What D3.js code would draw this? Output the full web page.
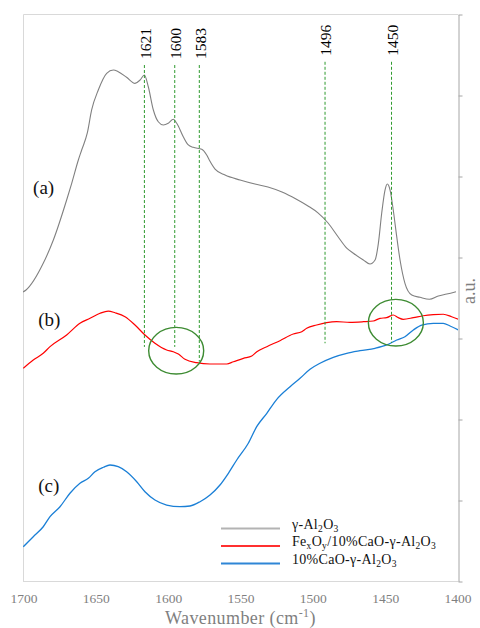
<!DOCTYPE html>
<html>
<head>
<meta charset="utf-8">
<script src="https://cdn.jsdelivr.net/npm/d3@7"></script>
<style>
  html, body { margin: 0; padding: 0; background: #fff; }
  svg { display: block; }
</style>
</head>
<body>
<svg id="chart" width="480" height="628"></svg>
<script>
// ---- FTIR spectra (wavenumber in cm-1, absorbance in arbitrary units) ----
const aluminaWavenumber = [1705, 1702.9, 1691.0, 1684.0, 1674.8, 1671.3, 1666.7, 1664.4, 1660.5, 1657.5, 1652.9,
  1647.1, 1642.5, 1639.1, 1633.3, 1627.5, 1624.0, 1621.0, 1618.3, 1614.8, 1611.4, 1607.9, 1604.5, 1601.0,
  1598.6, 1594.1, 1590.6, 1587.2, 1581.3, 1577.9, 1576.1, 1572.1, 1565.2, 1554.8, 1544.5, 1535.5, 1525.8,
  1516.1, 1507.8, 1500.9, 1493.9, 1487.0, 1481.0, 1476.4, 1469.5, 1464.9, 1461.4, 1459.1, 1456.8, 1454.5,
  1452.9, 1451.0, 1448.8, 1446.4, 1444.1, 1440.7, 1436.0, 1430.3, 1423.8, 1417.6, 1411.8, 1405.4];
const aluminaIntensity = [3.568, 3.593, 3.922, 4.210, 4.704, 4.910, 5.198, 5.321, 5.531, 5.815, 6.062,
  6.268, 6.309, 6.288, 6.219, 6.144, 6.185, 6.247, 6.102, 5.815, 5.670, 5.630, 5.651, 5.700,
  5.651, 5.485, 5.383, 5.354, 5.330, 5.259, 5.198, 5.086, 5.012, 4.951, 4.901, 4.864, 4.802,
  4.716, 4.630, 4.545, 4.420, 4.250, 4.110, 4.046, 3.963, 3.914, 3.963, 4.169, 4.540, 4.827,
  4.901, 4.827, 4.580, 4.251, 3.963, 3.675, 3.531, 3.502, 3.478, 3.519, 3.543, 3.572];

const feCaWavenumber = [1704.8, 1697.9, 1691.0, 1686.3, 1674.8, 1665.6, 1658.6, 1651.7, 1646.0, 1641.3, 1634.4,
  1627.5, 1620.6, 1613.7, 1605.6, 1601.0, 1597.5, 1592.9, 1584.8, 1575.6, 1564.0, 1559.4, 1552.5, 1546.7,
  1543.2, 1536.3, 1527.2, 1518.0, 1512.1, 1508.7, 1501.8, 1494.9, 1488.0, 1478.8, 1469.5, 1462.6, 1458.0,
  1453.4, 1448.8, 1445.3, 1441.9, 1434.9, 1428.0, 1421.1, 1414.2, 1408.4, 1403.8];
const feCaIntensity = [2.626, 2.728, 2.811, 2.893, 3.037, 3.181, 3.243, 3.305, 3.333, 3.312, 3.263,
  3.160, 3.037, 2.935, 2.852, 2.831, 2.802, 2.737, 2.695, 2.679, 2.679, 2.707, 2.749, 2.778,
  2.831, 2.893, 2.967, 3.049, 3.078, 3.120, 3.160, 3.189, 3.201, 3.194, 3.201, 3.210, 3.243,
  3.251, 3.284, 3.251, 3.231, 3.251, 3.275, 3.288, 3.293, 3.263, 3.231];

const caWavenumber = [1704.8, 1697.9, 1691.0, 1686.3, 1679.4, 1672.5, 1665.6, 1659.8, 1655.2, 1649.4, 1644.8,
  1639.1, 1633.3, 1626.3, 1620.6, 1613.7, 1605.6, 1596.4, 1589.4, 1582.5, 1575.6, 1568.7, 1562.9, 1557.1,
  1549.1, 1543.3, 1536.3, 1529.4, 1520.2, 1513.3, 1506.4, 1499.5, 1490.3, 1481.0, 1471.8, 1461.4, 1453.3,
  1446.4, 1440.7, 1434.9, 1429.1, 1421.1, 1414.2, 1409.5, 1403.8];
const caIntensity = [0.423, 0.547, 0.670, 0.794, 0.917, 1.083, 1.206, 1.268, 1.349, 1.404, 1.432,
  1.411, 1.349, 1.226, 1.102, 1.000, 0.938, 0.917, 0.926, 0.979, 1.062, 1.185, 1.330, 1.494,
  1.700, 1.905, 2.070, 2.243, 2.399, 2.502, 2.614, 2.688, 2.762, 2.811, 2.843, 2.873, 2.914,
  2.975, 3.016, 3.099, 3.160, 3.181, 3.181, 3.148, 3.099];

// Band positions marked with guide lines, and the intensity span each guide covers
const bandPositions = [1621, 1600, 1583, 1496, 1450];
const bandLineTop = [6.37, 6.37, 6.37, 6.41, 6.41];
const bandLineBottom = [2.89, 2.89, 2.71, 2.935, 2.94];

// Highlighted regions on the Fe-loaded spectrum (centre wavenumber, centre intensity)
const highlightWavenumber = [1599, 1447];
const highlightIntensity = [2.843, 3.189];

// Axis ticks
const xTickValues = [1700, 1650, 1600, 1550, 1500, 1450, 1400];
const yTickValues = [0, 1, 2, 3, 4, 5, 6, 7];

// Curve tags placed beside each spectrum (wavenumber, intensity)
const tagLabels = ["(a)", "(b)", "(c)"];
const tagWavenumber = [1698, 1694.5, 1694.5];
const tagIntensity = [4.86, 3.225, 1.185];

// Legend entries (rich text pieces: sub = subscript)
const legendLabels = [
  [{t: "γ-Al"}, {t: "2", sub: true}, {t: "O"}, {t: "3", sub: true}],
  [{t: "Fe"}, {t: "x", sub: true}, {t: "O"}, {t: "y", sub: true}, {t: "/10%CaO-γ-Al"}, {t: "2", sub: true}, {t: "O"}, {t: "3", sub: true}],
  [{t: "10%CaO-γ-Al"}, {t: "2", sub: true}, {t: "O"}, {t: "3", sub: true}]
];

// ---- drawing ----
const frame = {left: 23, right: 458, top: 14, bottom: 581};
const serif = "'Liberation Serif', 'DejaVu Serif', serif";

const svg = d3.select("#chart");

// Spectra span 1705–1404 cm-1 across the plot frame; tick labels use the nominal 1700–1400 range
const x = d3.scaleLinear().domain([1705, 1404]).range([frame.left, frame.right]);
const xTicksScale = d3.scaleLinear().domain([1700, 1400]).range([frame.left + 0.5, frame.right - 0.5]);
const y = d3.scaleLinear().domain([0, 7]).range([frame.bottom, frame.top]);

svg.append("defs").append("clipPath").attr("id", "plotClip")
  .append("rect")
  .attr("x", frame.left).attr("y", frame.top)
  .attr("width", frame.right - frame.left).attr("height", frame.bottom - frame.top);

// Plot frame (left, top, bottom)
const frameG = svg.append("g").attr("stroke", "#d9d9d9").attr("stroke-width", 1).attr("fill", "none");
frameG.append("path")
  .attr("d", `M${frame.left + 0.5},${frame.bottom + 0.5}V${frame.top + 0.5}H${frame.right}`);
frameG.append("path")
  .attr("d", `M${frame.left},${frame.bottom + 0.5}H${frame.right}`);

// Right value axis with outward ticks, no labels
const yAxisG = svg.append("g")
  .attr("transform", `translate(${frame.right + 0.5},0.5)`)
  .call(d3.axisRight(y).tickValues(yTickValues).tickSize(4).tickSizeOuter(0).tickFormat(""));
yAxisG.select(".domain").attr("stroke", "#a6a6a6");
yAxisG.selectAll(".tick line").attr("stroke", "#a6a6a6");

// Bottom tick labels
const xAxisG = svg.append("g")
  .attr("transform", `translate(0,${frame.bottom})`)
  .call(d3.axisBottom(xTicksScale).tickValues(xTickValues).tickSize(0).tickPadding(12).tickFormat(d3.format("d")));
xAxisG.select(".domain").remove();
xAxisG.selectAll("text")
  .attr("font-family", serif).attr("font-size", 13.5).attr("fill", "#7f7f7f");

// Axis titles
const xTitle = svg.append("text")
  .attr("x", (frame.left + frame.right) / 2).attr("y", 624)
  .attr("text-anchor", "middle")
  .attr("font-family", serif).attr("font-size", 18).attr("letter-spacing", 0.4).attr("fill", "#7f7f7f");
xTitle.append("tspan").text("Wavenumber (cm");
xTitle.append("tspan").text("-1").attr("font-size", 12).attr("dy", -7);
xTitle.append("tspan").text(")").attr("dy", 7);

svg.append("text")
  .attr("transform", "translate(475,291) rotate(-90)")
  .attr("text-anchor", "middle")
  .attr("font-family", serif).attr("font-size", 18).attr("fill", "#7f7f7f")
  .text("a.u.");

// Spectra
const series = [
  {w: aluminaWavenumber, v: aluminaIntensity, color: "#808080", width: 1.1},
  {w: feCaWavenumber, v: feCaIntensity, color: "#ff0000", width: 1.2},
  {w: caWavenumber, v: caIntensity, color: "#1a7fd6", width: 1.3}
];
const line = d3.line().curve(d3.curveMonotoneX).x(d => x(d[0])).y(d => y(d[1]));
const plot = svg.append("g").attr("clip-path", "url(#plotClip)");
series.forEach(s => {
  plot.append("path")
    .datum(d3.zip(s.w, s.v))
    .attr("fill", "none")
    .attr("stroke", s.color)
    .attr("stroke-width", s.width)
    .attr("stroke-linejoin", "round")
    .attr("d", line);
});

// Band guide lines
const guideG = svg.append("g");
bandPositions.forEach((b, i) => {
  guideG.append("line")
    .attr("x1", x(b)).attr("x2", x(b))
    .attr("y1", y(bandLineTop[i])).attr("y2", y(bandLineBottom[i]))
    .attr("stroke", "#2e9a2e").attr("stroke-width", 1)
    .attr("stroke-dasharray", "3,2");
  guideG.append("text")
    .attr("transform", `translate(${x(b) + 1},${y(bandLineTop[i]) - 6}) rotate(-90)`)
    .attr("dy", "0.35em")
    .attr("font-family", serif).attr("font-size", 15.5).attr("fill", "#000")
    .text(b);
});

// Highlight ellipses
highlightWavenumber.forEach((w, i) => {
  svg.append("ellipse")
    .attr("cx", x(w)).attr("cy", y(highlightIntensity[i]))
    .attr("rx", 27.5).attr("ry", 23.3)
    .attr("fill", "none")
    .attr("stroke", "#3d8b32").attr("stroke-width", 1.4);
});

// Curve tags
tagLabels.forEach((t, i) => {
  svg.append("text")
    .attr("x", x(tagWavenumber[i])).attr("y", y(tagIntensity[i]))
    .attr("dy", "0.35em")
    .attr("font-family", serif).attr("font-size", 19).attr("fill", "#111")
    .text(t);
});

// Legend
function richText(sel, parts, size) {
  let off = 0;
  parts.forEach(p => {
    const target = p.sub ? size * 0.22 : 0;
    const ts = sel.append("tspan").text(p.t).attr("dy", target - off);
    if (p.sub) ts.attr("font-size", size * 0.68);
    off = target;
  });
}
const legendColors = ["#b3b3b3", "#ff3030", "#2f86d6"];
const legend = svg.append("g").attr("transform", "translate(221,528.5)");
legendLabels.forEach((parts, i) => {
  const row = legend.append("g").attr("transform", `translate(0,${i * 17.5})`);
  row.append("line")
    .attr("x1", 0).attr("x2", 59)
    .attr("stroke", legendColors[i]).attr("stroke-width", 2);
  const txt = row.append("text")
    .attr("x", 71).attr("y", 0).attr("dy", "0.3em")
    .attr("font-family", serif).attr("font-size", 14).attr("letter-spacing", 0.3).attr("fill", "#111");
  richText(txt, parts, 14);
});
</script>
</body>
</html>
